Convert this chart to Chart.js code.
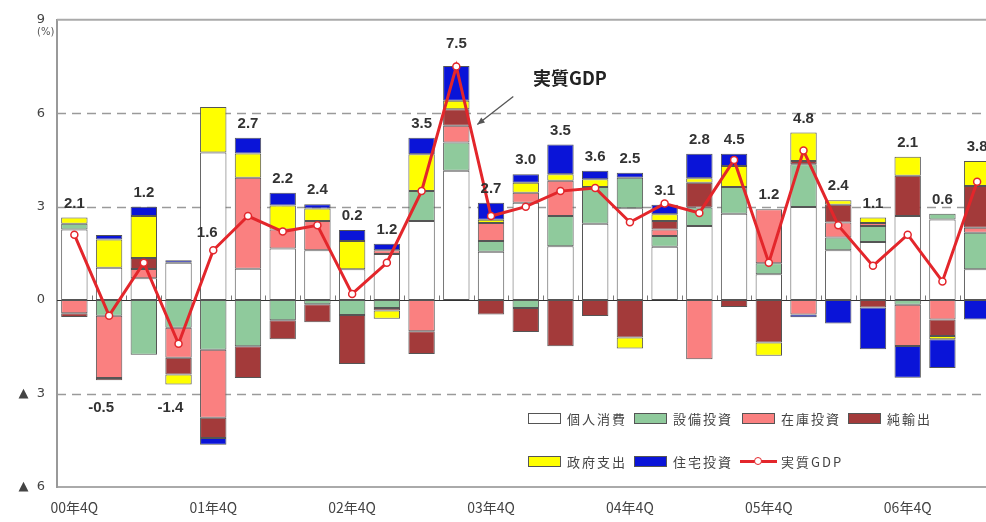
<!DOCTYPE html>
<html>
<head>
<meta charset="utf-8">
<script src="https://cdn.jsdelivr.net/npm/chart.js@4.4.1/dist/chart.umd.min.js"></script>
<style>
  body { margin: 0; background: #fff; overflow: hidden; }
  #wrap { position: relative; width: 1000px; height: 522px; }
  .lg { position: absolute; display: flex; align-items: center; font: 13px "Noto Sans CJK JP", sans-serif; color: #444; letter-spacing: 2px; }
  .lg .box { width: 31px; height: 9px; border: 1px solid #555; margin-right: 6px; }
  .lg .ln { width: 37px; height: 3px; background: #e3262b; margin-right: 4px; position: relative; }
  .lg .ln::after { content: ""; position: absolute; left: 14px; top: -3px; width: 6px; height: 6px; border-radius: 50%; background: #fff; border: 1px solid #e3262b; }
  #note { position: absolute; left: 533px; top: 64px; font: bold 18px "Noto Sans CJK JP", sans-serif; color: #222; }
  #pct { position: absolute; left: 37px; top: 26px; font: 10px "DejaVu Sans", sans-serif; color: #555; }
</style>
</head>
<body>
<div id="wrap">
  <canvas id="c" width="1000" height="522"></canvas>
  <div id="pct">(%)</div>
  <div id="note">実質GDP</div>
  <div class="lg" style="left:528px;top:409px"><span class="box" style="background:#fff"></span>個人消費</div>
  <div class="lg" style="left:634px;top:409px"><span class="box" style="background:#8fca9c"></span>設備投資</div>
  <div class="lg" style="left:742px;top:409px"><span class="box" style="background:#fa8080"></span>在庫投資</div>
  <div class="lg" style="left:848px;top:409px"><span class="box" style="background:#a33a3a"></span>純輸出</div>
  <div class="lg" style="left:528px;top:452px"><span class="box" style="background:#ffff00"></span>政府支出</div>
  <div class="lg" style="left:634px;top:452px"><span class="box" style="background:#0a14d8"></span>住宅投資</div>
  <div class="lg" style="left:740px;top:452px"><span class="ln"></span>実質GDP</div>
</div>
<script>
const quarters = ["00年4Q","01年1Q","01年2Q","01年3Q","01年4Q","02年1Q","02年2Q","02年3Q","02年4Q",
  "03年1Q","03年2Q","03年3Q","03年4Q","04年1Q","04年2Q","04年3Q","04年4Q","05年1Q","05年2Q","05年3Q",
  "05年4Q","06年1Q","06年2Q","06年3Q","06年4Q","07年1Q","07年2Q"];

// 実質GDP成長率（前期比年率）
const gdp = [2.1,-0.5,1.2,-1.4,1.6,2.7,2.2,2.4,0.2,1.2,3.5,7.5,2.7,3.0,3.5,3.6,2.5,3.1,2.8,4.5,1.2,4.8,2.4,1.1,2.1,0.6,3.8];

// 寄与度
const consumption = [2.27,1.04,0.7,1.2,4.74,1.01,1.66,1.6,0.99,1.48,2.54,4.15,1.55,3.13,1.73,2.45,2.95,1.71,2.38,2.77,0.83,2.99,1.6,1.87,2.7,2.59,0.99];
const equipment = [0.18,-0.5,-1.75,-0.89,-1.59,-1.48,-0.65,-0.13,-0.48,-0.25,0.96,0.91,0.35,-0.25,0.97,1.18,0.98,0.35,0.59,0.86,0.35,1.37,0.41,0.51,-0.15,0.18,1.17];
const inventory = [-0.42,-2.0,0.3,-0.96,-2.19,2.92,0.61,0.94,0,0.12,-1.0,0.54,0.58,0.32,1.13,0,0,0.21,-1.9,0,1.74,-0.46,0.48,0.1,-1.32,-0.62,0.16];
const netExports = [-0.12,-0.07,0.35,-0.54,-0.65,-1.02,-0.61,-0.58,-1.57,-0.08,-0.73,0.53,-0.46,-0.77,-1.48,-0.51,-1.2,0.27,0.8,-0.22,-1.36,0.11,0.57,-0.24,1.29,-0.53,1.34];
const government = [0.2,0.91,1.35,-0.32,1.46,0.78,0.77,0.4,0.91,-0.27,1.18,0.27,0.1,0.32,0.21,0.25,-0.35,0.22,0.14,0.68,-0.43,0.91,0.15,0.17,0.61,-0.11,0.81];
const housing = [0,0.14,0.3,0.08,-0.21,0.5,0.41,0.14,0.35,0.21,0.53,1.12,0.55,0.27,0.96,0.27,0.16,0.3,0.79,0.39,0,-0.09,-0.75,-1.34,-1.02,-0.92,-0.62];

const yTicks = [-6,-3,0,3,6,9];

const components = [
  { label: "個人消費", data: consumption, color: "#ffffff" },
  { label: "設備投資", data: equipment, color: "#8fca9c" },
  { label: "在庫投資", data: inventory, color: "#fa8080" },
  { label: "純輸出", data: netExports, color: "#a33a3a" },
  { label: "政府支出", data: government, color: "#ffff00" },
  { label: "住宅投資", data: housing, color: "#0a14d8" }
];

const RED = "#e3262b";

const extras = {
  id: "extras",
  beforeDatasetsDraw(chart) {
    const { ctx, chartArea: a, scales: { x, y } } = chart;
    ctx.save();
    // dashed grid
    ctx.strokeStyle = "#9a9a9a";
    ctx.lineWidth = 1.5;
    ctx.setLineDash([9, 6]);
    [6, 3, -3].forEach(v => {
      const py = Math.round(y.getPixelForValue(v)) + 0.5;
      ctx.beginPath(); ctx.moveTo(a.left, py); ctx.lineTo(a.right, py); ctx.stroke();
    });
    ctx.setLineDash([]);
    // top frame
    ctx.strokeStyle = "#aaa";
    ctx.lineWidth = 2;
    const top = y.getPixelForValue(9);
    ctx.beginPath(); ctx.moveTo(a.left, top); ctx.lineTo(a.right, top); ctx.stroke();
    // zero line + small ticks
    const y0 = Math.round(y.getPixelForValue(0)) + 0.5;
    ctx.strokeStyle = "#777";
    ctx.lineWidth = 1;
    const step = (a.right - a.left) / quarters.length;
    for (let i = 1; i < quarters.length; i++) {
      const px = Math.round(a.left + i * step) + 0.5;
      ctx.beginPath(); ctx.moveTo(px, y0); ctx.lineTo(px, y0 - 5); ctx.stroke();
    }
    ctx.strokeStyle = "#333";
    ctx.lineWidth = 1.2;
    ctx.beginPath(); ctx.moveTo(a.left, y0); ctx.lineTo(a.right, y0); ctx.stroke();
    ctx.restore();
  },
  afterDatasetsDraw(chart) {
    const { ctx, scales: { x, y } } = chart;
    ctx.save();
    ctx.font = "bold 15px 'Liberation Sans', Arial, sans-serif";
    ctx.fillStyle = "#333";
    ctx.textAlign = "center";
    ctx.textBaseline = "middle";
    gdp.forEach((g, i) => {
      let pos = 0;
      components.forEach(c => { if (c.data[i] > 0) pos += c.data[i]; });
      const px = x.getPixelForValue(i);
      let tx = px, ty;
      if (g < 0) {
        tx = px - 8;
        ty = y.getPixelForValue(-3) + 14;
      } else if (pos - g > 3) {
        tx = px - 6;
        ty = y.getPixelForValue(g) - 17;
      } else {
        ty = y.getPixelForValue(pos) - 14;
        if (g > 7) ty -= 8;
      }
      ctx.fillText(g.toFixed(1), tx, ty);
    });
    // annotation arrow
    const tipX = x.getPixelForValue(11) + 21;
    const tipY = y.getPixelForValue(5.64);
    const sx = tipX + 36, sy = tipY - 28;
    ctx.strokeStyle = "#555";
    ctx.fillStyle = "#555";
    ctx.lineWidth = 1.3;
    ctx.beginPath(); ctx.moveTo(sx, sy); ctx.lineTo(tipX, tipY); ctx.stroke();
    const ang = Math.atan2(tipY - sy, tipX - sx);
    ctx.beginPath();
    ctx.moveTo(tipX, tipY);
    ctx.lineTo(tipX - 8 * Math.cos(ang - 0.4), tipY - 8 * Math.sin(ang - 0.4));
    ctx.lineTo(tipX - 8 * Math.cos(ang + 0.4), tipY - 8 * Math.sin(ang + 0.4));
    ctx.closePath(); ctx.fill();
    ctx.restore();
  }
};

const datasets = [
  {
    type: "line", label: "実質GDP", data: gdp, stack: "gdp", order: 0,
    borderColor: RED, borderWidth: 3, tension: 0,
    pointRadius: 3.5, pointBackgroundColor: "#fff", pointBorderColor: RED, pointBorderWidth: 1.5
  }
].concat(components.map(c => ({
  type: "bar", label: c.label, data: c.data, order: 1,
  backgroundColor: c.color, borderColor: "#555", borderWidth: 1, borderSkipped: false
})));

new Chart(document.getElementById("c"), {
  type: "bar",
  data: { labels: quarters, datasets },
  plugins: [extras],
  options: {
    responsive: false,
    animation: false,
    layout: { padding: { top: 18, right: 5, left: 0, bottom: 0 } },
    datasets: { bar: { barPercentage: 0.76, categoryPercentage: 1 } },
    plugins: { legend: { display: false }, tooltip: { enabled: false } },
    scales: {
      x: {
        stacked: true,
        grid: { display: false },
        border: { color: "#aaa", width: 2 },
        ticks: {
          autoSkip: false, maxRotation: 0, padding: 4, color: "#444",
          font: { size: 14, family: "'Noto Sans CJK JP', sans-serif" },
          callback: (v, i) => quarters[i].endsWith("4Q") ? quarters[i] : ""
        },
        afterFit: s => { s.height = 35; }
      },
      y: {
        stacked: true, min: -6, max: 9,
        afterBuildTicks: s => { s.ticks = yTicks.map(v => ({ value: v })); },
        grid: { display: false, drawTicks: false },
        border: { color: "#999", width: 2 },
        ticks: {
          padding: 12, color: "#444",
          font: { size: 13, family: "'DejaVu Sans', sans-serif" },
          callback: v => v < 0 ? "▲  " + (-v) : String(v)
        },
        afterFit: s => { s.width = 57; }
      }
    }
  }
});
</script>
</body>
</html>
